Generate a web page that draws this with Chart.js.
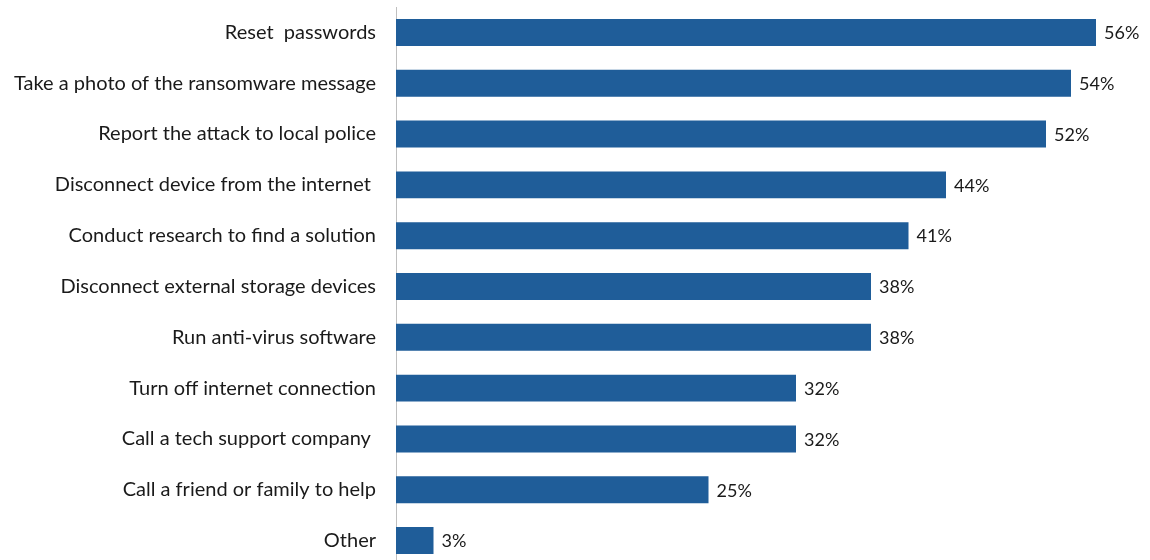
<!DOCTYPE html>
<html>
<head>
<meta charset="utf-8">
<script src="https://cdn.jsdelivr.net/npm/chart.js@4.4.1/dist/chart.umd.min.js"></script>
<style>
  html, body { margin: 0; padding: 0; background: #fff; overflow: hidden; }
  canvas { display: block; }
</style>
</head>
<body>
<canvas id="chart-actions" width="1150" height="566"></canvas>
<script>
// categories and values (percent)
const actions = [
    'Reset  passwords',
    'Take a photo of the ransomware message',
    'Report the attack to local police',
    'Disconnect device from the internet ',
    'Conduct research to find a solution',
    'Disconnect external storage devices',
    'Run anti-virus software',
    'Turn off internet connection',
    'Call a tech support company ',
    'Call a friend or family to help',
    'Other'
];
const shares = [56, 54, 52, 44, 41, 38, 38, 32, 32, 25, 3];

const FONT = 'Lato, "Open Sans", sans-serif';

// writes "NN%" just past the end of each bar
const valueLabels = {
    id: 'valueLabels',
    afterDatasetsDraw(chart) {
        const ctx = chart.ctx;
        const meta = chart.getDatasetMeta(0);
        ctx.save();
        ctx.font = '18px ' + FONT;
        ctx.fillStyle = '#1a1a1a';
        ctx.textAlign = 'left';
        ctx.textBaseline = 'middle';
        meta.data.forEach((bar, i) => {
            ctx.fillText(shares[i] + '%', bar.x + 8, bar.y + 1);
        });
        ctx.restore();
    }
};

const chartActions = document.getElementById('chart-actions');

new Chart(chartActions, {
    type: 'bar',
    data: {
        labels: actions,
        datasets: [{
            data: shares,
            backgroundColor: '#1f5d99',
            borderWidth: 0,
            categoryPercentage: 1,
            barPercentage: 0.53
        }]
    },
    options: {
        indexAxis: 'y',
        responsive: false,
        animation: false,
        layout: { padding: { top: 7, right: 4, bottom: 0, left: 0 } },
        plugins: {
            legend: { display: false },
            tooltip: { enabled: false }
        },
        scales: {
            x: {
                display: false,
                min: 0,
                max: 60
            },
            y: {
                afterFit(scale) {
                    scale.width = 396;
                    scale.paddingTop = 0;
                    scale.paddingBottom = 0;
                },
                grid: { drawOnChartArea: false, drawTicks: false },
                border: { color: '#bfbfbf', width: 1 },
                ticks: {
                    padding: 20,
                    color: '#1a1a1a',
                    font: { family: FONT, size: 20 }
                }
            }
        }
    },
    plugins: [valueLabels]
});
</script>
</body>
</html>
